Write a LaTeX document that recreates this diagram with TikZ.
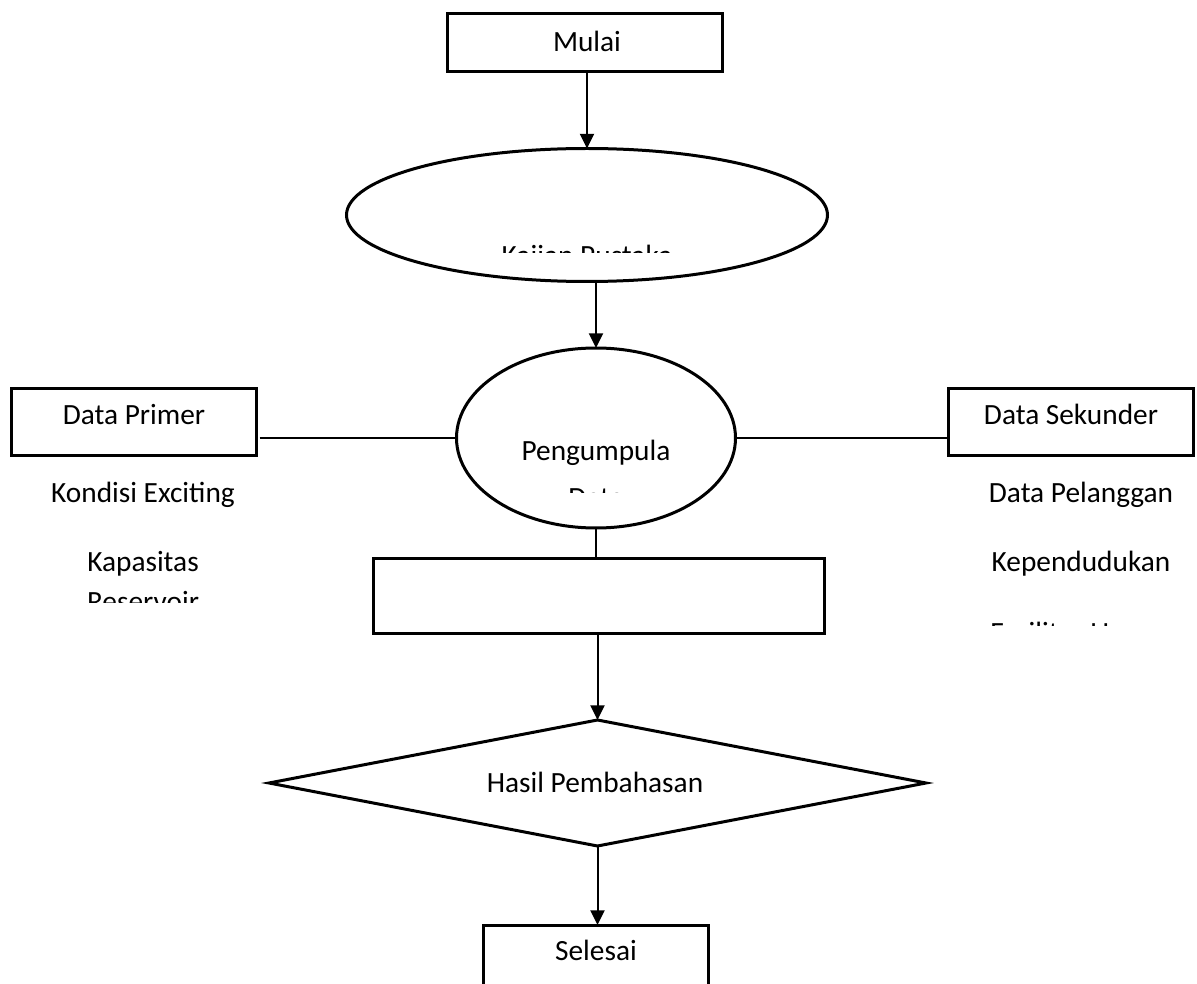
\documentclass[tikz,border=0pt]{standalone}
\usepackage{fontspec}
\setmainfont{Carlito}
\usetikzlibrary{shapes.geometric,arrows.meta}
\begin{document}
\begin{tikzpicture}[x=0.75pt,y=-0.75pt,
  box/.style={draw,line width=2.25pt,rectangle,inner sep=0pt,outer sep=0pt},
  oval/.style={draw,line width=2.25pt,ellipse,inner sep=0pt,outer sep=0pt},
  dia/.style={draw,line width=2.25pt,diamond,inner sep=0pt,outer sep=0pt},
  txt/.style={inner sep=0pt,outer sep=0pt,anchor=base,font=\fontsize{22}{26}\selectfont},
  conn/.style={line width=1.5pt},
  arr/.style={line width=1.5pt,-{Triangle[length=11pt,width=10.5pt]}}]
\clip (0,0) rectangle (1197,984);
\fill[white] (0,0) rectangle (1197,984);
% shapes
\node[box,minimum width=275*0.75pt,minimum height=58*0.75pt] (mulai) at (585,43) {};
\node[oval,minimum width=481*0.75pt,minimum height=133*0.75pt] (kajian) at (587,215) {};
\node[oval,minimum width=279*0.75pt,minimum height=180*0.75pt] (peng) at (596,438) {};
\node[box,minimum width=245*0.75pt,minimum height=67*0.75pt] (primer) at (134,422) {};
\node[box,minimum width=245*0.75pt,minimum height=67*0.75pt] (sekunder) at (1071,422) {};
\node[box,minimum width=451*0.75pt,minimum height=75*0.75pt] (proses) at (599,596) {};
\node[dia,minimum width=657*0.75pt,minimum height=126*0.75pt] (hasil) at (597.5,783) {};
\node[box,minimum width=225*0.75pt,minimum height=70*0.75pt] (selesai) at (596,960) {};
% texts
\node[txt] (tmulai) at (587,52) {Mulai};
\node[txt] (tprimer) at (134,425) {Data Primer};
\node[txt] (tsekunder) at (1071,425) {Data Sekunder};
\node[txt] (tpeng) at (596,460) {Pengumpula};
\node[txt] (tkondisi) at (143,503) {Kondisi Exciting};
\node[txt] (tkapasitas) at (143,571) {Kapasitas};
\node[txt] (tpelanggan) at (1081,503) {Data Pelanggan};
\node[txt] (tpenduduk) at (1081,571) {Kependudukan};
\node[txt] (thasil) at (595,792) {Hasil Pembahasan};
\node[txt] (tselesai) at (596,960) {Selesai};
% clipped texts
\begin{scope}
\clip (400,200) rectangle (780,253);
\node[txt] (tkajian) at (587,266) {Kajian Pustaka};
\end{scope}
\begin{scope}
\clip (500,470) rectangle (700,492);
\node[txt] (tdata) at (596,508) {Data};
\end{scope}
\begin{scope}
\clip (40,585) rectangle (260,602);
\node[txt] (treservoir) at (143,611) {Reservoir};
\end{scope}
\begin{scope}
\clip (960,610) rectangle (1197,625);
\node[txt] (tfasilitas) at (1081,642) {Fasilitas Umum};
\end{scope}
% connectors
\draw[arr] (mulai.south -| kajian.north) -- (kajian.north);
\draw[arr] (peng.north |- kajian.south) -- (peng.north);
\draw[conn] ([xshift=2.25pt]primer.east |- peng.west) -- (peng.west);
\draw[conn] (peng.east) -- (sekunder.west |- peng.east);
\draw[conn] (peng.south) -- (peng.south |- proses.north);
\draw[arr] (hasil.north |- proses.south) -- (hasil.north);
\draw[arr] (hasil.south) -- (hasil.south |- selesai.north);
\end{tikzpicture}
\end{document}
